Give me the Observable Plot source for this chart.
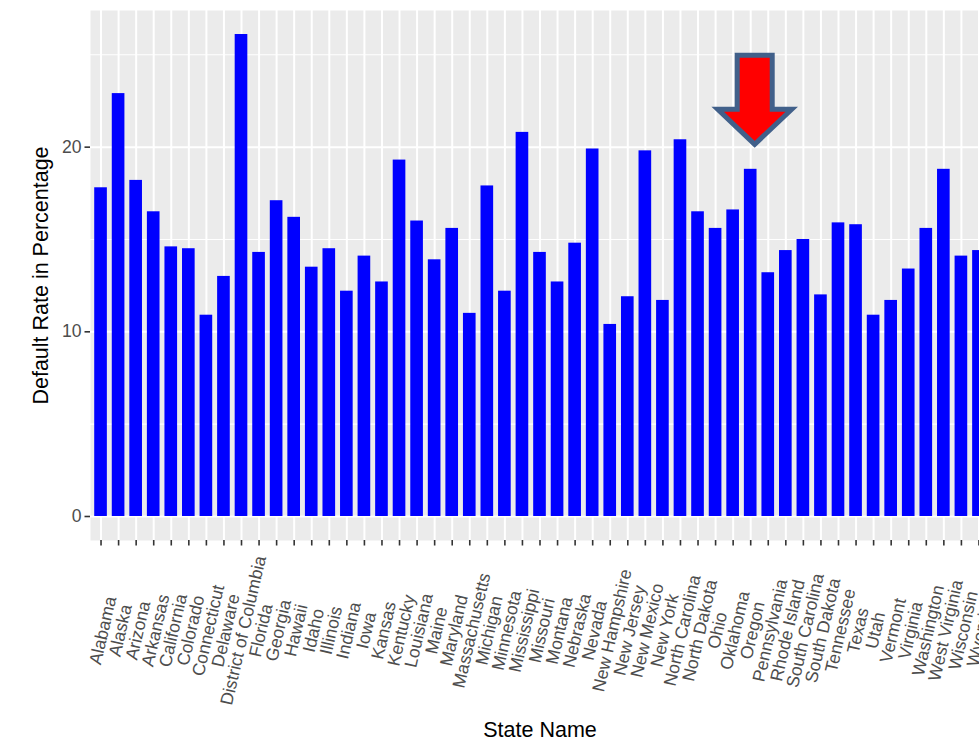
<!DOCTYPE html>
<html>
<head>
<meta charset="utf-8">
<script src="https://cdn.jsdelivr.net/npm/d3@7"></script>
<script src="https://cdn.jsdelivr.net/npm/@observablehq/plot@0.6"></script>
<style>
  html, body { margin: 0; padding: 0; background: #fff; overflow: hidden; width: 979px; height: 741px; }
  #chart { width: 995px; }
  #chart svg { display: block; max-width: none !important; width: 995px !important; height: 741px !important; }
</style>
</head>
<body>
<div id="chart"></div>
<script>
const states = ["Alabama","Alaska","Arizona","Arkansas","California","Colorado","Connecticut","Delaware","District of Columbia","Florida","Georgia","Hawaii","Idaho","Illinois","Indiana","Iowa","Kansas","Kentucky","Louisiana","Maine","Maryland","Massachusetts","Michigan","Minnesota","Mississippi","Missouri","Montana","Nebraska","Nevada","New Hampshire","New Jersey","New Mexico","New York","North Carolina","North Dakota","Ohio","Oklahoma","Oregon","Pennsylvania","Rhode Island","South Carolina","South Dakota","Tennessee","Texas","Utah","Vermont","Virginia","Washington","West Virginia","Wisconsin","Wyoming"];
const rates = [17.8,22.9,18.2,16.5,14.6,14.5,10.9,13.0,26.1,14.3,17.1,16.2,13.5,14.5,12.2,14.1,12.7,19.3,16.0,13.9,15.6,11.0,17.9,12.2,20.8,14.3,12.7,14.8,19.9,10.4,11.9,19.8,11.7,20.4,16.5,15.6,16.6,18.8,13.2,14.4,15.0,12.0,15.9,15.8,10.9,11.7,13.4,15.6,18.8,14.1,14.4];
const yTicks = [0, 10, 20];
const yMinor = [5, 15, 25];
const highlighted = ["Oregon"];

const data = states.map((s, i) => ({state: s, rate: rates[i]}));
const annot = data.filter(d => highlighted.includes(d.state));

// arrow glyph drawn around its tip (pixel shape only)
const arrowSymbol = {
  draw(ctx) {
    ctx.moveTo(0, 0);
    ctx.lineTo(-37, -35);
    ctx.lineTo(-17.5, -35);
    ctx.lineTo(-17.5, -89);
    ctx.lineTo(17.5, -89);
    ctx.lineTo(17.5, -35);
    ctx.lineTo(37, -35);
    ctx.closePath();
  }
};

const font = "'Liberation Sans', Arial, sans-serif";

const chart = Plot.plot({
  width: 995,
  height: 741,
  marginTop: 10,
  marginBottom: 201,
  marginLeft: 90,
  marginRight: 6,
  style: {fontFamily: font, background: "#ffffff", overflow: "visible"},
  x: {type: "band", domain: states, paddingInner: 0.28, paddingOuter: 0.24, round: false, axis: null},
  y: {domain: [-1.3, 27.4], axis: null},
  marks: [
    Plot.frame({fill: "#EBEBEB", stroke: null}),
    Plot.gridY(yMinor, {stroke: "#ffffff", strokeOpacity: 1, strokeWidth: 1.1}),
    Plot.gridY(yTicks, {stroke: "#ffffff", strokeOpacity: 1, strokeWidth: 2}),
    Plot.gridX(states, {stroke: "#ffffff", strokeOpacity: 1, strokeWidth: 2}),
    Plot.barY(data, {x: "state", y: "rate", fill: "#0000FF"}),
    Plot.axisY(yTicks, {tickSize: 5.5, tickPadding: 3.5, fontSize: 17.6, color: "#4D4D4D", stroke: "#333333", strokeWidth: 1.6, label: null}),
    Plot.axisX(states, {tickSize: 5.5, tickFormat: () => "", stroke: "#333333", strokeWidth: 1.6, label: null}),
    Plot.text(data, {x: "state", text: "state", frameAnchor: "bottom", dy: 90, dx: 2, rotate: -77, textAnchor: "middle", lineAnchor: "middle", fontSize: 17.6, fill: "#4D4D4D"}),
    Plot.text(["Default Rate in Percentage"], {text: d => d, frameAnchor: "left", dx: -49.5, rotate: -90, textAnchor: "middle", lineAnchor: "middle", fontSize: 21.5, fill: "#000000"}),
    Plot.text(["State Name"], {text: d => d, frameAnchor: "bottom", dy: 189.5, textAnchor: "middle", lineAnchor: "middle", fontSize: 21.5, fill: "#000000"}),
    Plot.dot(annot, {x: "state", y: "rate", symbol: arrowSymbol, r: 10, dx: 4, dy: -25, fill: "#FF0000", stroke: "#41608A", strokeWidth: 5, strokeLinejoin: "miter"})
  ]
});
document.getElementById("chart").appendChild(chart);
</script>
</body>
</html>
